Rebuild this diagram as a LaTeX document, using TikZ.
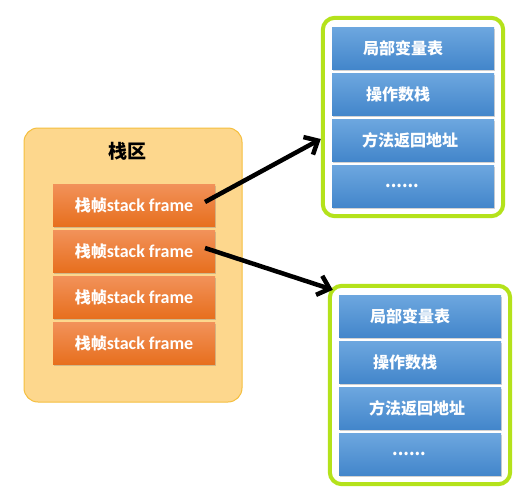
\documentclass[tikz,border=0pt]{standalone}
\usepackage{fontspec}
\setmainfont{Carlito}
\newfontfamily\cjk{Noto Sans CJK SC}
\usetikzlibrary{arrows.meta,positioning,fit,shadows}
\definecolor{stackfill}{HTML}{FDD78D}
\definecolor{stackline}{HTML}{F5BF3E}
\definecolor{frametop}{HTML}{F2925A}
\definecolor{framebot}{HTML}{E76F1E}
\definecolor{slottop}{HTML}{6DA7DF}
\definecolor{slotbot}{HTML}{4386CB}
\definecolor{lime}{HTML}{B4E21B}
\tikzset{
  stackarea/.style={rectangle, rounded corners=14pt, draw=stackline, fill=stackfill, line width=1pt,
                    minimum width=218pt, minimum height=274pt},
  framebox/.style={rectangle, top color=frametop, bottom color=framebot, draw=none,
                   minimum width=162pt, minimum height=42pt, inner sep=0pt, text=white,
                   font=\fontsize{18}{20}\selectfont\bfseries,
                   drop shadow={opacity=0.35, shadow xshift=1pt, shadow yshift=-2pt}},
  slotbox/.style={framebox, top color=slottop, bottom color=slotbot,
                  font=\fontsize{16}{18}\selectfont\cjk\bfseries},
  groupbox/.style={rectangle, rounded corners=12pt, draw=lime, line width=4pt, inner sep=9pt},
  link/.style={-{Straight Barb[length=11pt,width=20pt,line width=4.5pt]}, line width=4.5pt, black},
}
\newcommand{\zhen}{{\cjk\fontsize{16}{18}\selectfont 栈帧}stack frame}

\begin{document}
\begin{tikzpicture}[x=1pt,y=-1pt]
\useasboundingbox[fill=white] (0,0) rectangle (528,496);

% stack area
\node[stackarea] (stack) at (133,265) {};
\node[font=\fontsize{19}{21}\selectfont\cjk\bfseries] (title) at (127,151) {栈区};

\node[framebox] (f1) at (134,205) {\zhen};
\node[framebox] (f2) at (134,251) {\zhen};
\node[framebox] (f3) at (134,297) {\zhen};
\node[framebox] (f4) at (134,343) {\zhen};

% first frame content
\node[slotbox] (a1) at (413,48)  {\hspace*{-20pt}局部变量表};
\node[slotbox] (a2) at (413,94)  {\hspace*{-30pt}操作数栈};
\node[slotbox] (a3) at (413,140) {\hspace*{-6pt}方法返回地址};
\node[slotbox] (a4) at (413,186) {\hspace*{-22pt}......};
\node[groupbox, fit=(a1)(a4)] (ga) {};

% second frame content
\node[slotbox] (b1) at (420,316) {\hspace*{-20pt}局部变量表};
\node[slotbox] (b2) at (420,362) {\hspace*{-30pt}操作数栈};
\node[slotbox] (b3) at (420,408) {\hspace*{-6pt}方法返回地址};
\node[slotbox] (b4) at (420,454) {\hspace*{-22pt}......};
\node[groupbox, fit=(b1)(b4)] (gb) {};

\coordinate (s1) at (205,202);
\coordinate (s2) at (205,248);
\draw[link] (s1) -- ([yshift=-22pt]ga.west);
\draw[link] (s2) -- ([xshift=5pt,yshift=-6pt]gb.north west);
\end{tikzpicture}
\end{document}
